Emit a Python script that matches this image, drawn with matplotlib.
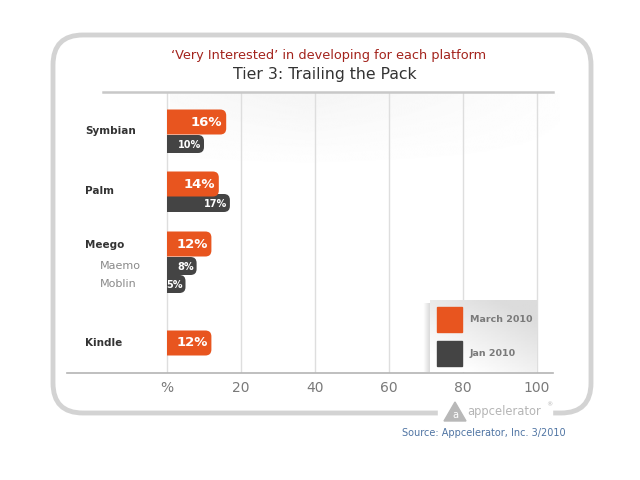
import matplotlib
matplotlib.use("Agg")
import matplotlib.pyplot as plt
import numpy as np
from matplotlib.patches import FancyBboxPatch, Rectangle, Polygon

plt.rcParams['font.family'] = ['DejaVu Sans']

# ---- data ----
platforms = ['Symbian', 'Palm', 'Meego', 'Kindle']
march_2010 = [16, 14, 12, 12]
jan_2010 = [10, 17]            # Symbian, Palm
meego_sub = ['Maemo', 'Moblin']
meego_sub_jan = [8, 5]
series_names = ['March 2010', 'Jan 2010']
tick_values = [0, 20, 40, 60, 80, 100]
tick_labels = ['%', '20', '40', '60', '80', '100']
title = "\u2018Very Interested\u2019 in developing for each platform"
subtitle = "Tier 3: Trailing the Pack"
source = "Source: Appcelerator, Inc. 3/2010"

# ---- layout (row centres in axis units, 0 = top of plot) ----
march_rows = [30, 92, 152, 251]
jan_rows = [52, 111]
sub_rows = [174, 192]
label_rows = [39, 99, 153, 251]
orange_h, gray_h = 25, 18
ORANGE = '#e8551f'
GRAY = '#444444'

W, H = 640, 480
fig = plt.figure(figsize=(6.4, 4.8), dpi=100)
fig.patch.set_facecolor('white')

# background overlay in pixel coordinates
bg = fig.add_axes([0, 0, 1, 1], zorder=0)
bg.axis('off')
frame = FancyBboxPatch((53, 35), 538, 378, boxstyle='round,pad=0,rounding_size=30',
                       lw=3.5, ec='#d3d3d3', fc='white')
bg.add_patch(frame)
# subtle shading under top line
grad = np.linspace(0.96, 1.0, 80).reshape(-1, 1)
gx = np.linspace(0, 1, 120).reshape(1, -1)
shade = 1 - (1 - grad) * (1 - np.abs(gx - 0.35) * 1.3).clip(0, 1)
bg.imshow(shade, cmap='gray', vmin=0, vmax=1, interpolation='bilinear',
          extent=(170, 560, 170, 93), aspect='auto', zorder=1)
bg.set_xlim(0, W); bg.set_ylim(H, 0)

# main axes
x0px, x100px = 167, 537
ppu = (x100px - x0px) / 100
left_px, right_px, top_px, bot_px = 67, 553, 92, 373
ax = fig.add_axes([left_px / W, 1 - bot_px / H, (right_px - left_px) / W,
                   (bot_px - top_px) / H], zorder=1)
ax.set_facecolor('none')
ax.set_xlim((left_px - x0px) / ppu, (right_px - x0px) / ppu)
ax.set_ylim(bot_px - top_px, 0)
for v in tick_values:
    ax.axvline(v, color='#dedede', lw=1, zorder=0)
ax.set_xticks(tick_values)
ax.set_xticklabels(tick_labels, color='#7a7a7a', fontsize=10)
ax.tick_params(axis='x', length=0, pad=6)
ax.set_yticks([])
for s in ['left', 'right', 'top']:
    ax.spines[s].set_visible(False)
ax.spines['bottom'].set_color('#b4b4b4'); ax.spines['bottom'].set_linewidth(1.2)
ax.axhline(0, xmin=(103 - left_px) / (right_px - left_px), xmax=1,
           color='#c8c8c8', lw=1.8, clip_on=False)

clip_rect = Rectangle((0, -10), 200, 400, transform=ax.transData)


def round_bars(container, color, r_px=6):
    for p in container.patches:
        x, y = p.get_x(), p.get_y()
        w, h = p.get_width(), p.get_height()
        p.set_visible(False)
        rx = r_px / ppu
        fb = FancyBboxPatch((x - 3, y), w + 3, h,
                            boxstyle=f'round,pad=0,rounding_size={rx}',
                            mutation_aspect=ppu, fc=color, ec='none',
                            zorder=p.get_zorder())
        ax.add_patch(fb)
        fb.set_clip_path(clip_rect)


# gray bars (behind)
b1 = ax.barh(jan_rows, jan_2010, height=gray_h, color=GRAY, zorder=2)
b2 = ax.barh(sub_rows, meego_sub_jan, height=gray_h, color=GRAY, zorder=2)
# orange bars
b3 = ax.barh(march_rows, march_2010, height=orange_h, color=ORANGE, zorder=3)
round_bars(b1, GRAY)
round_bars(b2, GRAY)
round_bars(b3, ORANGE)

for y, v in zip(march_rows, march_2010):
    ax.text(v - 1.0, y, f'{v}%', color='white', fontsize=9.5, ha='right',
            va='center', fontweight='bold', zorder=4)
for y, v in zip(jan_rows + sub_rows, jan_2010 + meego_sub_jan):
    ax.text(v - 0.8, y + 1, f'{v}%', color='white', fontsize=7, ha='right',
            va='center', fontweight='bold', zorder=4)

label_x = (85 - x0px) / ppu
for name, y in zip(platforms, label_rows):
    ax.text(label_x, y, name, fontsize=7.5, fontweight='bold', color='#333333',
            ha='left', va='center')
for name, y in zip(meego_sub, sub_rows):
    ax.text((100 - x0px) / ppu, y, name, fontsize=8, color='#8a8a8a',
            ha='left', va='center')

# foreground overlay (legend, titles, logo)
fg = fig.add_axes([0, 0, 1, 1], zorder=3)
fg.set_facecolor('none'); fg.axis('off')
lg = np.linspace(0, 1, 50)
gx2, gy2 = np.meshgrid(lg, lg)
lshade = 1 - 0.14 * np.clip((gx2 * 0.6 + (1 - gy2) * 0.8) - 0.2, 0, 1)
fg.imshow(lshade, cmap='gray', vmin=0, vmax=1, extent=(430, 537, 372, 300),
          aspect='auto', zorder=1)
sh = np.tile(np.linspace(1.0, 0.86, 8), (10, 1))
fg.imshow(sh, cmap='gray', vmin=0, vmax=1, extent=(423, 430, 372, 303),
          aspect='auto', zorder=1)
for i, (nm, c) in enumerate(zip(series_names, [ORANGE, GRAY])):
    yy = 307 + i * 34
    fg.add_patch(Rectangle((437, yy), 25, 25, color=c, zorder=2))
    fg.text(470, yy + 12.5, nm, fontsize=6.8, fontweight='bold',
            color='#7a7a7a', va='center', ha='left', zorder=3)

fg.text(329, 55, title, color='#a3231c', fontsize=9.3, ha='center', va='center')
fg.text(325, 75, subtitle, color='#333333', fontsize=11.3, ha='center', va='center')

# logo on the frame bottom
fg.add_patch(Rectangle((438, 404), 114, 14, color='white', zorder=2))
fg.add_patch(Polygon([[444, 421], [455, 402], [466, 421]], closed=True,
                     color='#b8b8b8', zorder=3))
fg.text(455, 415, 'a', color='white', fontsize=7, ha='center', va='center', zorder=4)
fg.text(467, 411, 'appcelerator', color='#b5b5b5', fontsize=8.3,
        ha='left', va='center', zorder=4)
fg.text(546, 405, '\u00ae', color='#b5b5b5', fontsize=4.5,
        ha='left', va='center', zorder=4)
fg.text(566, 433, source, color='#4f74a3', fontsize=7, ha='right', va='center')
fg.set_xlim(0, W); fg.set_ylim(H, 0)

fig.savefig('out.png', dpi=100, facecolor='white')
